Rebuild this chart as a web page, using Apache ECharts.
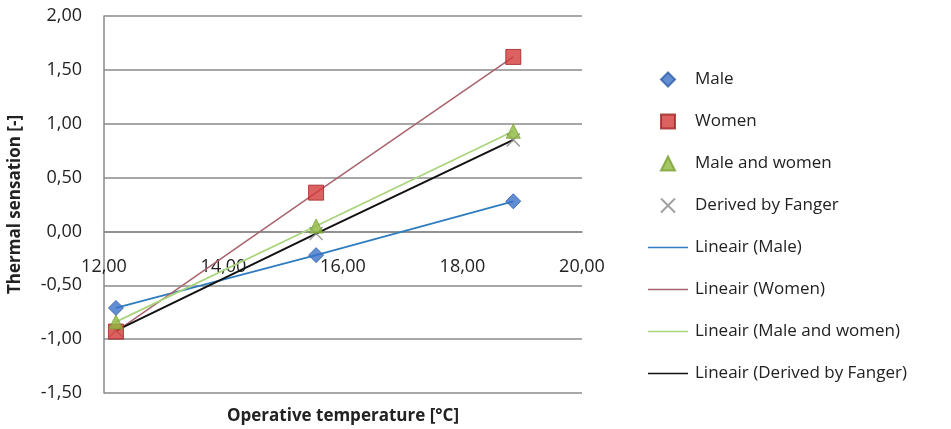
<!DOCTYPE html>
<html>
<head>
<meta charset="utf-8">
<script src="https://cdn.jsdelivr.net/npm/echarts@6/dist/echarts.min.js"></script>
<style>
  html, body { margin: 0; padding: 0; background: #fff; }
  #chart { width: 951px; height: 429px; }
</style>
</head>
<body>
<div id="chart"></div>
<script>
// operative temperature [°C] of the three measurement groups
const temps = [12.2, 15.55, 18.85]

// thermal sensation [-]
const male = [-0.71, -0.22, 0.28]
const women = [-0.93, 0.36, 1.62]
const maleAndWomen = [-0.84, 0.05, 0.93]
const fanger = [-0.92, -0.02, 0.85]

const xTicks = { min: 12, max: 20, interval: 2 }
const yTicks = { min: -1.5, max: 2, interval: 0.5 }

const pairs = vals => temps.map((t, i) => [t, vals[i]])
const comma = v => v.toFixed(2).replace('.', ',')

const FONT = '"Open Sans", sans-serif'
const TEXT = '#222'

// plot area
const GRID = { left: 104, right: 369, top: 16, bottom: 36 }
// the horizontal axis crosses the vertical one at 0 (onZero does not kick in
// for two value axes here, so shift it up from the bottom edge instead)
const plotH = 429 - GRID.top - GRID.bottom
const zeroShift = plotH * (0 - yTicks.min) / (yTicks.max - yTicks.min)

// legend icons (path icons keep their aspect ratio inside the 40x14 box)
const ICON_DIAMOND = 'path://M5,0 L10,5 L5,10 L0,5 Z'
const ICON_SQUARE = 'path://M0,0 L10,0 L10,10 L0,10 Z'
const ICON_TRIANGLE = 'path://M5,0 L10,10 L0,10 Z'
const ICON_CROSS = 'path://M0,0 L10,10 M10,0 L0,10'
const ICON_LINE = 'path://M0,0 L40,0 L40,1.6 L0,1.6 Z'

function markers (name, vals, symbol, color, border, size) {
  return {
    name,
    type: 'scatter',
    data: pairs(vals),
    symbol,
    symbolSize: size,
    z: 5,
    itemStyle: { color, borderColor: border, borderWidth: 1 }
  }
}

function trend (name, vals, color, width) {
  return {
    name,
    type: 'line',
    data: pairs(vals),
    symbol: 'none',
    z: 3,
    lineStyle: { color, width },
    itemStyle: { color }
  }
}

const chart = echarts.init(document.getElementById('chart'))
chart.setOption({
  animation: false,
  backgroundColor: '#fff',
  grid: Object.assign({ outerBoundsMode: 'none', containLabel: false }, GRID),
  xAxis: {
    type: 'value',
    min: xTicks.min,
    max: xTicks.max,
    interval: xTicks.interval,
    offset: -zeroShift,
    name: 'Operative temperature [°C]',
    nameLocation: 'middle',
    nameGap: 176,
    nameTextStyle: { fontFamily: FONT, fontSize: 17, fontWeight: 'bold', color: TEXT },
    axisLine: { show: true, onZero: false, lineStyle: { color: '#8a8a8a', width: 1.5 } },
    axisTick: { show: false },
    splitLine: { show: false },
    axisLabel: { margin: 26, fontFamily: FONT, fontSize: 18, color: TEXT, formatter: comma }
  },
  yAxis: {
    type: 'value',
    min: yTicks.min,
    max: yTicks.max,
    interval: yTicks.interval,
    name: 'Thermal sensation [-]',
    nameLocation: 'middle',
    nameRotate: 90,
    nameGap: 80,
    nameTextStyle: { fontFamily: FONT, fontSize: 17, fontWeight: 'bold', color: TEXT },
    axisLine: { show: true, onZero: false, lineStyle: { color: '#8a8a8a', width: 1.5 } },
    axisTick: { show: false },
    splitLine: { lineStyle: { color: '#8a8a8a', width: 1.5 } },
    axisLabel: { margin: 22, fontFamily: FONT, fontSize: 18, color: TEXT, formatter: comma }
  },
  legend: {
    orient: 'vertical',
    left: 643,
    top: 66,
    itemWidth: 40,
    itemHeight: 14,
    itemGap: 25,
    symbolKeepAspect: true,
    textStyle: { fontFamily: FONT, fontSize: 17, color: TEXT, padding: [0, 0, 0, 2] },
    data: [
      { name: 'Male', icon: ICON_DIAMOND },
      { name: 'Women', icon: ICON_SQUARE },
      { name: 'Male and women', icon: ICON_TRIANGLE },
      { name: 'Derived by Fanger', icon: ICON_CROSS },
      { name: 'Lineair (Male)', icon: ICON_LINE },
      { name: 'Lineair (Women)', icon: ICON_LINE },
      { name: 'Lineair (Male and women)', icon: ICON_LINE },
      { name: 'Lineair (Derived by Fanger)', icon: ICON_LINE }
    ]
  },
  series: [
    trend('Lineair (Male)', male, '#2f7dbf', 1.8),
    trend('Lineair (Women)', women, '#a8636d', 1.5),
    trend('Lineair (Male and women)', maleAndWomen, '#a9d47c', 1.8),
    trend('Lineair (Derived by Fanger)', fanger, '#111', 2),
    markers('Male', male, 'diamond', '#3a70c8', '#2f5fa8', 15),
    markers('Women', women, 'rect', '#d33a3a', '#9e2424', 15),
    markers('Male and women', maleAndWomen, 'triangle', '#8fb83e', '#78a032', 14),
    {
      name: 'Derived by Fanger',
      type: 'scatter',
      data: pairs(fanger),
      symbol: ICON_CROSS,
      symbolSize: 13,
      z: 4,
      itemStyle: { color: 'rgba(0,0,0,0)', borderColor: '#8a8a8a', borderWidth: 1.5 }
    }
  ]
})
</script>
</body>
</html>
